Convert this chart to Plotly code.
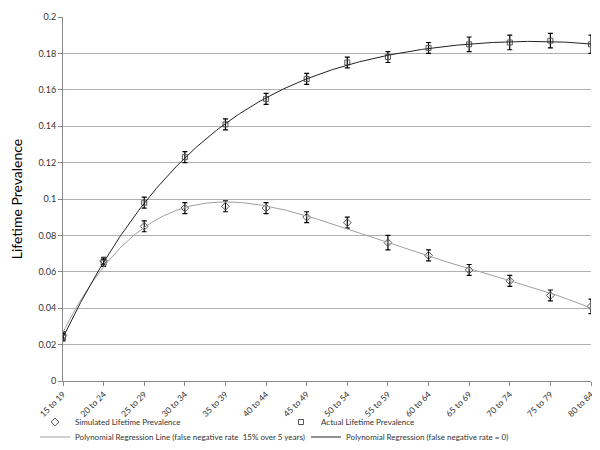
import numpy as np
import plotly.graph_objects as go

age_groups = ["15 to 19", "20 to 24", "25 to 29", "30 to 34", "35 to 39", "40 to 44", "45 to 49",
              "50 to 54", "55 to 59", "60 to 64", "65 to 69", "70 to 74", "75 to 79", "80 to 84"]
simulated = [0.025, 0.066, 0.085, 0.095, 0.096, 0.095, 0.090, 0.087, 0.076, 0.069, 0.061, 0.055, 0.047, 0.041]
simulated_err = [0.002, 0.002, 0.003, 0.003, 0.003, 0.003, 0.003, 0.003, 0.004, 0.003, 0.003, 0.003, 0.003, 0.004]
actual = [0.024, 0.065, 0.098, 0.123, 0.141, 0.155, 0.166, 0.175, 0.178, 0.183, 0.185, 0.186, 0.187, 0.185]
actual_err = [0.002, 0.002, 0.003, 0.003, 0.003, 0.003, 0.003, 0.003, 0.003, 0.003, 0.004, 0.004, 0.004, 0.005]

idx = np.arange(len(age_groups))
fine = np.linspace(0, len(age_groups) - 1, 300)
sim_fit = np.polyval(np.polyfit(idx, simulated, 4), fine)
act_fit = np.polyval(np.polyfit(idx, actual, 4), fine)

font = "Lato, 'Open Sans', sans-serif"
fig = go.Figure()
fig.add_trace(go.Scatter(
    x=idx, y=simulated, mode="markers", name="Simulated Lifetime Prevalence", legend="legend",
    marker=dict(symbol="diamond-open", size=6, color="#555555", line=dict(width=1)),
    error_y=dict(type="data", array=simulated_err, color="#000000", thickness=1.2, width=2.5)))
fig.add_trace(go.Scatter(
    x=idx, y=actual, mode="markers", name="Actual Lifetime Prevalence", legend="legend",
    marker=dict(symbol="square-open", size=5, color="#555555", line=dict(width=1)),
    error_y=dict(type="data", array=actual_err, color="#000000", thickness=1.2, width=2.5)))
fig.add_trace(go.Scatter(
    x=fine, y=sim_fit, mode="lines", legend="legend2",
    name="Polynomial Regression Line (false negative rate  15% over 5 years)",
    line=dict(color="#a0a0a0", width=1)))
fig.add_trace(go.Scatter(
    x=fine, y=act_fit, mode="lines", legend="legend2",
    name="Polynomial Regression (false negative rate = 0)",
    line=dict(color="#222222", width=1)))

leg_common = dict(orientation="h", xanchor="left", yanchor="middle",
                  entrywidthmode="pixels", bgcolor="rgba(0,0,0,0)",
                  font=dict(family=font, size=8, color="#333333"), itemwidth=30)

fig.update_layout(
    width=600, height=450,
    margin=dict(l=55, r=17, t=9, b=77, autoexpand=False),
    paper_bgcolor="white", plot_bgcolor="white",
    font=dict(family=font, size=9, color="#333333"),
    showlegend=True,
    legend=dict(x=-0.053, y=(373 - 414) / 364, entrywidth=201, **leg_common),
    legend2=dict(x=-0.053, y=(373 - 429) / 364, entrywidth=226, **leg_common),
    xaxis=dict(range=[0, len(age_groups) - 1], tickmode="array", tickvals=idx, ticktext=age_groups,
               tickangle=-45, showgrid=False, showline=True, linecolor="#888888", linewidth=1,
               ticks="outside", ticklen=4, tickcolor="#888888", zeroline=False,
               tickfont=dict(size=8.5, color="#333333")),
    yaxis=dict(range=[0, 0.2], dtick=0.02, tickformat="~g", showgrid=True, gridcolor="#b0b0b0",
               gridwidth=1, showline=True, linecolor="#888888", linewidth=1, ticks="outside",
               ticklen=4, tickcolor="#888888", zeroline=False,
               title=dict(text="Lifetime Prevalence", font=dict(size=14, color="#000000"), standoff=12),
               tickfont=dict(size=9, color="#333333")),
)
fig.write_html("out.html")
